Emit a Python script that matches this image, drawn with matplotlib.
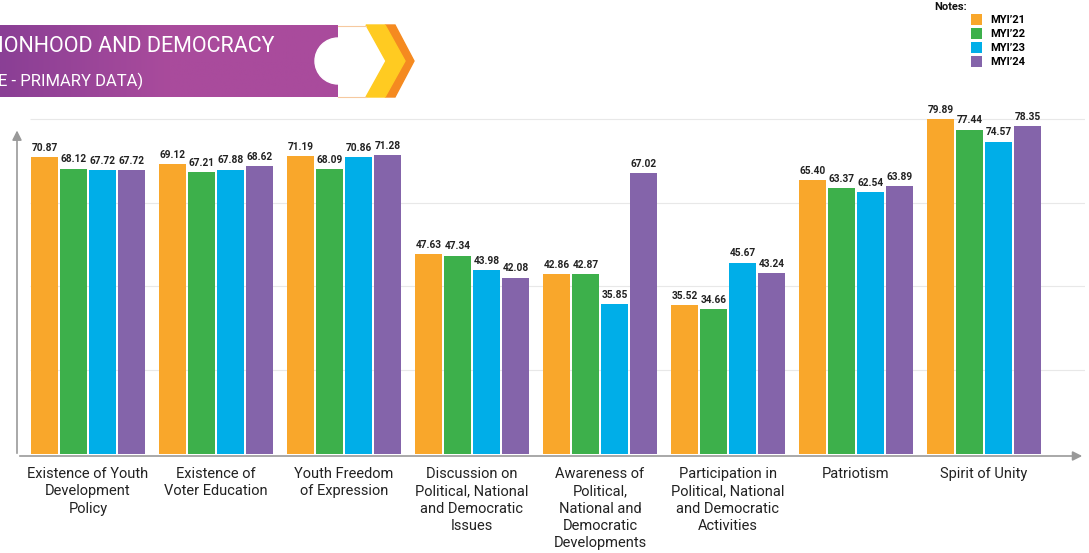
import numpy as np
import matplotlib.pyplot as plt
from matplotlib.patches import Polygon, Circle
from matplotlib.colors import LinearSegmentedColormap

plt.rcParams['font.family'] = ['Roboto', 'DejaVu Sans']

categories = ['Existence of Youth\nDevelopment\nPolicy', 'Existence of\nVoter Education',
              'Youth Freedom\nof Expression', 'Discussion on\nPolitical, National\nand Democratic\nIssues',
              'Awareness of\nPolitical,\nNational and\nDemocratic\nDevelopments',
              'Participation in\nPolitical, National\nand Democratic\nActivities',
              'Patriotism', 'Spirit of Unity']
years = ['MYI\u201921', 'MYI\u201922', 'MYI\u201923', 'MYI\u201924']
myi21 = [70.87, 69.12, 71.19, 47.63, 42.86, 35.52, 65.40, 79.89]
myi22 = [68.12, 67.21, 68.09, 47.34, 42.87, 34.66, 63.37, 77.44]
myi23 = [67.72, 67.88, 70.86, 43.98, 35.85, 45.67, 62.54, 74.57]
myi24 = [67.72, 68.62, 71.28, 42.08, 67.02, 43.24, 63.89, 78.35]
colors = ['#F9A72B', '#3DB04B', '#00AEE8', '#8464AA']

fig = plt.figure(figsize=(10.89, 5.53), dpi=100)
ax = fig.add_axes([17 / 1089, 97 / 553, 1068 / 1089, 345.6 / 553])

x = np.arange(len(categories))
width = 0.211
step = 0.227
series = [myi21, myi22, myi23, myi24]
handles = []
for i, vals in enumerate(series):
    pos = x + (i - 1.5) * step
    b = ax.bar(pos, vals, width, color=colors[i], zorder=3, label=years[i])
    handles.append(b)
    for p, v in zip(pos, vals):
        ax.annotate(f'{v:.2f}', (p, v), xytext=(0, 3), textcoords='offset points',
                    ha='center', va='bottom', fontsize=7.3, fontweight='bold', color='#222222')

ax.set_xlim(-0.555, 7.79)
ax.set_ylim(-0.5, 82)
ax.hlines([20, 40, 60, 80], -0.45, 7.79, color='#e8e8e8', lw=0.8, zorder=1)
for s in ax.spines.values():
    s.set_visible(False)
ax.set_yticks([])
ax.set_xticks(x)
ax.set_xticklabels(categories, fontsize=10.5, color='#222222', linespacing=1.3)
ax.tick_params(axis='x', length=0, pad=8)

# axis arrows
ax.annotate('', xy=(0, 0.95), xytext=(0, 0), xycoords='axes fraction',
            arrowprops=dict(arrowstyle='-|>', color='#999999', lw=1.2, mutation_scale=14))
ax.annotate('', xy=(1, 0), xytext=(0, 0), xycoords='axes fraction',
            arrowprops=dict(arrowstyle='-|>', color='#999999', lw=1.2, mutation_scale=14))

# legend
fig.text(934 / 1089, 1 - 7 / 553, 'Notes:', fontsize=8, fontweight='bold', va='center', color='#111111')
ax.legend(handles=handles, loc='upper left', bbox_to_anchor=(963 / 1089, 1 - 6 / 553),
          bbox_transform=fig.transFigure, frameon=False,
          prop={'weight': 'bold', 'size': 8}, handlelength=1.05, handleheight=1.15,
          labelspacing=0.25, handletextpad=0.7, borderpad=0.2)

# header banner
hx = fig.add_axes([0, 0, 1, 1], zorder=5)
grad = np.linspace(0, 1, 256).reshape(1, -1)
cmap = LinearSegmentedColormap.from_list('banner', ['#8A3F95', '#A94B9C', '#A94B9C'])
hx.imshow(grad, extent=(0, 338, 97, 25), cmap=cmap, aspect='auto')
hx.set_xlim(0, 1089)
hx.set_ylim(553, 0)
hx.axis('off')
hx.add_patch(Circle((338, 61), 23, color='white'))
hx.plot([338, 366], [25.5, 25.5], color='#F6C9A0', lw=0.8)
hx.plot([338, 366], [96.5, 96.5], color='#F6C9A0', lw=0.8)
hx.add_patch(Polygon([(385, 25), (395, 25), (414, 61), (395, 97), (385, 97), (405, 61)],
                     color='#F58A20'))
hx.add_patch(Polygon([(366, 25), (385, 25), (405, 61), (385, 97), (366, 97), (386, 61)],
                     color='#FFCB21'))
hx.text(-2, 46, 'IONHOOD AND DEMOCRACY', color='white', fontsize=15.5, va='center',
        ha='left', family='Roboto')
hx.text(-2, 81, 'E - PRIMARY DATA)', color='white', fontsize=12, va='center',
        ha='left', family='Roboto')

fig.savefig('out.png', dpi=100)
